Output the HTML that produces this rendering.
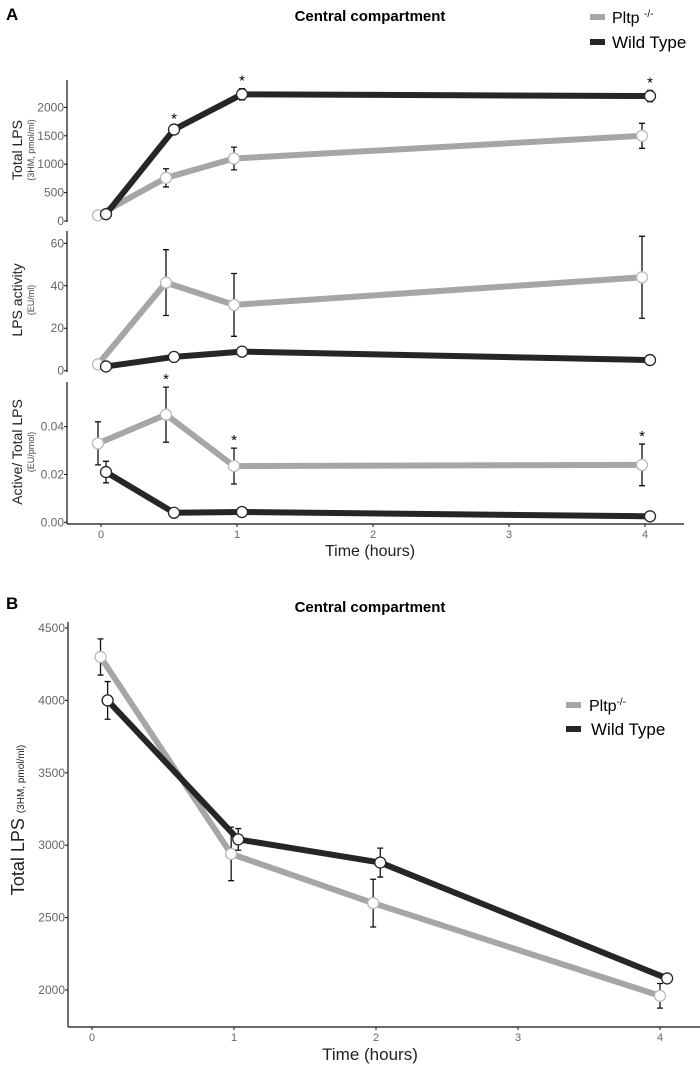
<!DOCTYPE html>
<html><head><meta charset="utf-8"><style>
body{margin:0;background:#fff}
svg{display:block;font-family:"Liberation Sans",sans-serif}
</style></head><body>
<svg id="chart" width="700" height="1066" viewBox="0 0 700 1066">
<text x="6" y="20" font-size="17" font-weight="bold">A</text>
<text x="370" y="21" font-size="15" font-weight="bold" text-anchor="middle">Central compartment</text>
<rect x="590" y="14" width="15" height="6" fill="#a6a6a6"/>
<text x="612" y="23" font-size="16">Pltp <tspan font-size="10" dy="-6">-/-</tspan></text>
<rect x="590" y="39" width="15" height="6" fill="#262626"/>
<text x="612" y="48" font-size="17">Wild Type</text>
<text x="6" y="609" font-size="17" font-weight="bold">B</text>
<text x="370" y="612" font-size="15" font-weight="bold" text-anchor="middle">Central compartment</text>
<rect x="566" y="702" width="15" height="6" fill="#a6a6a6"/>
<text x="589" y="711" font-size="16">Pltp<tspan font-size="10" dy="-6">-/-</tspan></text>
<rect x="566" y="726" width="15" height="6" fill="#262626"/>
<text x="591" y="735" font-size="17">Wild Type</text>
<g id="plots"></g>
</svg>
<script>
// Panel A data
const timesA = [0, 0.5, 1, 4];
const totalPltp = [100, 760, 1100, 1500];
const totalPltpErr = [0, 160, 200, 220];
const totalWt = [120, 1610, 2230, 2200];
const totalWtErr = [0, 50, 100, 100];
const totalStars = [false, true, true, true];
const actPltp = [3, 41.5, 31, 44];
const actPltpErr = [0, 15.5, 14.8, 19.3];
const actWt = [2, 6.5, 9, 5];
const actWtErr = [0, 0, 0, 0];
const ratioPltp = [0.033, 0.045, 0.0235, 0.024];
const ratioPltpErr = [0.009, 0.0115, 0.0075, 0.0087];
const ratioWt = [0.021, 0.004, 0.0043, 0.0025];
const ratioWtErr = [0.0045, 0, 0, 0];
const ratioStars = [false, true, true, true];
const ticksTotal = [0, 500, 1000, 1500, 2000];
const ticksAct = [0, 20, 40, 60];
const ticksRatio = ["0.00", "0.02", "0.04"];
const ticksTimeA = [0, 1, 2, 3, 4];
// Panel B data
const timesBPltp = [0.06, 0.98, 1.98, 4.0];
const timesBWt = [0.11, 1.03, 2.03, 4.05];
const bPltp = [4300, 2940, 2600, 1960];
const bPltpErr = [125, 185, 165, 85];
const bWt = [4000, 3040, 2880, 2080];
const bWtErr = [130, 75, 100, 0];
const ticksB = [2000, 2500, 3000, 3500, 4000, 4500];
const ticksTimeB = [0, 1, 2, 3, 4];

const NS = "http://www.w3.org/2000/svg";
const G = document.getElementById('plots');
function mk(tag, attrs, parent) {
  const e = document.createElementNS(NS, tag);
  for (const k in attrs) e.setAttribute(k, attrs[k]);
  (parent || G).appendChild(e);
  return e;
}
const GRAY = "#a6a6a6", DARK = "#262626";

const xA = t => 101 + t * 136;
const xB = t => 92 + t * 142;

function series(xs, ys, errs, xf, yf, dx, color, stroke, name, stars) {
  const pts = xs.map((t, i) => [xf(t) + dx, yf(ys[i])]);
  const pl = mk('polyline', {points: pts.map(p => p.join(',')).join(' '), fill: 'none', stroke: color, 'stroke-width': 6, 'stroke-linejoin': 'round'});
  
  
  pts.forEach((p, i) => {
    if (errs[i] > 0) {
      const y1 = yf(ys[i] + errs[i]), y2 = yf(ys[i] - errs[i]);
      const eb = mk('path', {d: `M${p[0]},${y1}V${y2}M${p[0]-3},${y1}H${p[0]+3}M${p[0]-3},${y2}H${p[0]+3}`, stroke: '#111', 'stroke-width': 1.3, fill: 'none'});
      
      
    }
  });
  pts.forEach((p, i) => {
    const c = mk('circle', {cx: p[0], cy: p[1], r: 5.5, fill: '#fff', stroke: stroke, 'stroke-width': 1.3});
    
    
    if (stars && stars[i]) {
      const st = mk('text', {x: p[0], y: yf(ys[i] + errs[i]) - 3, 'font-size': 15, 'text-anchor': 'middle'});
      st.textContent = '*';
      
      
    }
  });
}

function yaxis(x, top, bottom, ticks, yf, name, fs) {
  const l = mk('line', {x1: x, x2: x, y1: top, y2: bottom, stroke: '#111', 'stroke-width': 1.2});
  
  
  ticks.forEach(v => {
    const y = yf(+v);
    mk('line', {x1: x - 3, x2: x, y1: y, y2: y, stroke: '#111'});
    const t = mk('text', {x: x - 3, y: y + 4, 'font-size': fs, fill: '#666', 'text-anchor': 'end'});
    t.textContent = v;
    
    
  });
}
function ytitle(x, cy, main, sub, fsMain, fsSub, name) {
  const t = mk('text', {transform: `translate(${x},${cy}) rotate(-90)`, 'text-anchor': 'middle', 'font-size': fsMain, fill: '#222'});
  t.textContent = main;
  
  
  if (sub) {
    const s = mk('text', {transform: `translate(${x + 12},${cy}) rotate(-90)`, 'text-anchor': 'middle', 'font-size': fsSub, fill: '#444'});
    s.textContent = sub;
    
    
  }
}

// A1
const y1 = v => 221 - v * 0.0568;
yaxis(67, 80, 222, ticksTotal, y1, 'y-axis-total-lps', 12);
ytitle(22, 150, 'Total LPS', '(3HM, pmol/ml)', 14, 9, 'y-axis-title-total-lps');
series(timesA, totalPltp, totalPltpErr, xA, y1, -3, GRAY, '#bbb', 'pltp-total');
series(timesA, totalWt, totalWtErr, xA, y1, 5, DARK, DARK, 'wt-total', totalStars);
// A2
const y2 = v => 370.7 - v * 2.123;
yaxis(67, 231, 372, ticksAct, y2, 'y-axis-lps-activity', 12);
ytitle(22, 300, 'LPS activity', '(EU/ml)', 14, 9, 'y-axis-title-lps-activity');
series(timesA, actPltp, actPltpErr, xA, y2, -3, GRAY, '#bbb', 'pltp-activity');
series(timesA, actWt, actWtErr, xA, y2, 5, DARK, DARK, 'wt-activity');
// A3
const y3 = v => 522.3 - v * 2392;
yaxis(67, 382, 524, ticksRatio, y3, 'y-axis-ratio', 12);
ytitle(22, 452, 'Active/ Total LPS', '(EU/pmol)', 14, 9, 'y-axis-title-ratio');
series(timesA, ratioPltp, ratioPltpErr, xA, y3, -3, GRAY, '#bbb', 'pltp-ratio');
series(timesA, ratioWt, ratioWtErr, xA, y3, 5, DARK, DARK, 'wt-ratio', null);
ratioStars.forEach((s, i) => {
  if (!s) return;
  const st = mk('text', {x: xA(timesA[i]) - 3, y: y3(ratioPltp[i] + ratioPltpErr[i]) - 3, 'font-size': 15, 'text-anchor': 'middle'});
  st.textContent = '*';
  
  
});
// A x-axis
const xa = mk('line', {x1: 67, x2: 684, y1: 524, y2: 524, stroke: '#111', 'stroke-width': 1.2});


ticksTimeA.forEach(v => {
  mk('line', {x1: xA(v), x2: xA(v), y1: 524, y2: 527, stroke: '#111'});
  const t = mk('text', {x: xA(v), y: 538, 'font-size': 11, fill: '#666', 'text-anchor': 'middle'});
  t.textContent = v;
  
  
});
const xta = mk('text', {x: 370, y: 556, 'font-size': 16, 'text-anchor': 'middle', fill: '#222'});
xta.textContent = 'Time (hours)';



// B
const yB = v => 990 - (v - 2000) * 0.1448;
yaxis(68, 622, 1027, ticksB, yB, 'y-axis-b', 12);
const tb = mk('text', {transform: 'translate(24,820) rotate(-90)', 'text-anchor': 'middle', 'font-size': 18, fill: '#222'});
tb.innerHTML = 'Total LPS <tspan font-size="10">(3HM, pmol/ml)</tspan>';


series(timesBPltp, bPltp, bPltpErr, xB, yB, 0, GRAY, '#bbb', 'pltp-b');
series(timesBWt, bWt, bWtErr, xB, yB, 0, DARK, DARK, 'wt-b');
const xb = mk('line', {x1: 68, x2: 700, y1: 1027, y2: 1027, stroke: '#111', 'stroke-width': 1.2});


ticksTimeB.forEach(v => {
  mk('line', {x1: xB(v), x2: xB(v), y1: 1027, y2: 1030, stroke: '#111'});
  const t = mk('text', {x: xB(v), y: 1041, 'font-size': 11, fill: '#666', 'text-anchor': 'middle'});
  t.textContent = v;
  
  
});
const xtb = mk('text', {x: 370, y: 1060, 'font-size': 17, 'text-anchor': 'middle', fill: '#222'});
xtb.textContent = 'Time (hours)';


</script>
</body></html>
